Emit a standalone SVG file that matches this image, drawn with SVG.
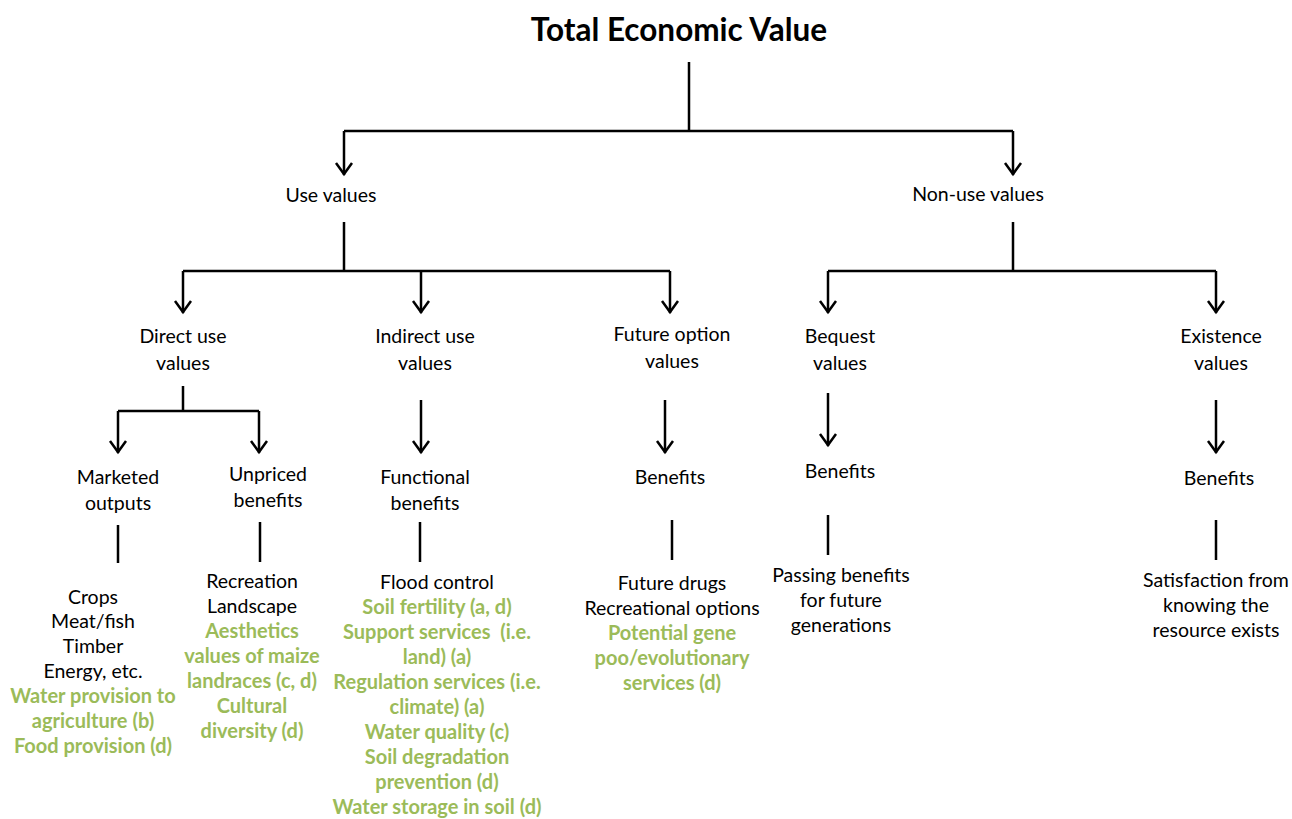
<svg xmlns="http://www.w3.org/2000/svg" width="1292" height="819" viewBox="0 0 1292 819">
<defs>
<marker id="arr" viewBox="0 0 20 20" refX="18" refY="10" markerWidth="20" markerHeight="20" markerUnits="userSpaceOnUse" orient="auto">
<path d="M6,2 L17,10 L6,18" fill="none" stroke="#000" stroke-width="2.5"/>
</marker>
<style>
.t{font-family:Lato,"Liberation Sans",sans-serif;font-size:19.5px;fill:#000;text-anchor:middle}
.g{font-family:Lato,"Liberation Sans",sans-serif;font-size:20px;font-weight:bold;fill:#9bbb59;text-anchor:middle}
.title{font-family:Lato,"Liberation Sans",sans-serif;font-size:31.5px;font-weight:bold;fill:#000;text-anchor:middle}
.c{fill:none;stroke:#000;stroke-width:2.5}
.a{fill:none;stroke:#000;stroke-width:2.5;marker-end:url(#arr)}
</style>
</defs>
<rect width="1292" height="819" fill="#fff"/>
<g id="connectors">
<path class="c" d="M689,62 V131 M344,131 H1013"/>
<path class="a" d="M344,131 V175"/>
<path class="a" d="M1013,131 V175"/>
<path class="c" d="M344,222 V271 M183,271 H670"/>
<path class="a" d="M183,271 V313"/>
<path class="a" d="M421,271 V313"/>
<path class="a" d="M670,271 V313"/>
<path class="c" d="M1013,222 V271 M828,271 H1216"/>
<path class="a" d="M828,271 V313"/>
<path class="a" d="M1216,271 V313"/>
<path class="c" d="M183,386 V411 M118,411 H259"/>
<path class="a" d="M118,411 V453"/>
<path class="a" d="M259,411 V453"/>
<path class="a" d="M421,400 V453"/>
<path class="a" d="M665,400 V453"/>
<path class="a" d="M828,393 V446"/>
<path class="a" d="M1216,400 V453"/>
<path class="c" d="M118,525 V563 M260,522 V562 M420,522 V562 M672,520 V560 M828,515 V555 M1216,520 V560"/>
</g>
<g id="n-total"><text class="title" x="679" y="41">Total Economic Value</text></g>
<g id="n-use"><text class="t" x="331" y="202">Use values</text></g>
<g id="n-nonuse"><text class="t" x="978" y="201">Non-use values</text></g>
<g id="n-direct"><text class="t" x="183" y="343">Direct use</text><text class="t" x="183" y="370">values</text></g>
<g id="n-indirect"><text class="t" x="425" y="343">Indirect use</text><text class="t" x="425" y="370">values</text></g>
<g id="n-option"><text class="t" x="672" y="341">Future option</text><text class="t" x="672" y="368">values</text></g>
<g id="n-bequest"><text class="t" x="840" y="343">Bequest</text><text class="t" x="840" y="370">values</text></g>
<g id="n-existence"><text class="t" x="1221" y="343">Existence</text><text class="t" x="1221" y="370">values</text></g>
<g id="n-marketed"><text class="t" x="118" y="484">Marketed</text><text class="t" x="118" y="510">outputs</text></g>
<g id="n-unpriced"><text class="t" x="268" y="481">Unpriced</text><text class="t" x="268" y="507">benefits</text></g>
<g id="n-functional"><text class="t" x="425" y="484">Functional</text><text class="t" x="425" y="510">benefits</text></g>
<g id="n-ben-option"><text class="t" x="670" y="484">Benefits</text></g>
<g id="n-ben-bequest"><text class="t" x="840" y="478">Benefits</text></g>
<g id="n-ben-existence"><text class="t" x="1219" y="485">Benefits</text></g>
<g id="l-marketed">
<text class="t" x="93" y="604">Crops</text>
<text class="t" x="93" y="628">Meat/fish</text>
<text class="t" x="93" y="653">Timber</text>
<text class="t" x="93" y="678">Energy, etc.</text>
<text class="g" x="93" y="703">Water provision to</text>
<text class="g" x="93" y="728">agriculture (b)</text>
<text class="g" x="93" y="753">Food provision (d)</text>
</g>
<g id="l-unpriced">
<text class="t" x="252" y="588">Recreation</text>
<text class="t" x="252" y="613">Landscape</text>
<text class="g" x="252" y="638">Aesthetics</text>
<text class="g" x="252" y="663">values of maize</text>
<text class="g" x="252" y="688">landraces (c, d)</text>
<text class="g" x="252" y="713">Cultural</text>
<text class="g" x="252" y="738">diversity (d)</text>
</g>
<g id="l-functional">
<text class="t" x="437" y="589">Flood control</text>
<text class="g" x="437" y="614">Soil fertility (a, d)</text>
<text class="g" x="437" y="639" xml:space="preserve">Support services  (i.e.</text>
<text class="g" x="437" y="664">land) (a)</text>
<text class="g" x="437" y="689">Regulation services (i.e.</text>
<text class="g" x="437" y="714">climate) (a)</text>
<text class="g" x="437" y="739">Water quality (c)</text>
<text class="g" x="437" y="764">Soil degradation</text>
<text class="g" x="437" y="789">prevention (d)</text>
<text class="g" x="437" y="814">Water storage in soil (d)</text>
</g>
<g id="l-option">
<text class="t" x="672" y="590">Future drugs</text>
<text class="t" x="672" y="615">Recreational options</text>
<text class="g" x="672" y="640">Potential gene</text>
<text class="g" x="672" y="665">poo/evolutionary</text>
<text class="g" x="672" y="690">services (d)</text>
</g>
<g id="l-bequest">
<text class="t" x="841" y="582">Passing benefits</text>
<text class="t" x="841" y="607">for future</text>
<text class="t" x="841" y="632">generations</text>
</g>
<g id="l-existence">
<text class="t" x="1216" y="587">Satisfaction from</text>
<text class="t" x="1216" y="612">knowing the</text>
<text class="t" x="1216" y="637">resource exists</text>
</g>
</svg>
